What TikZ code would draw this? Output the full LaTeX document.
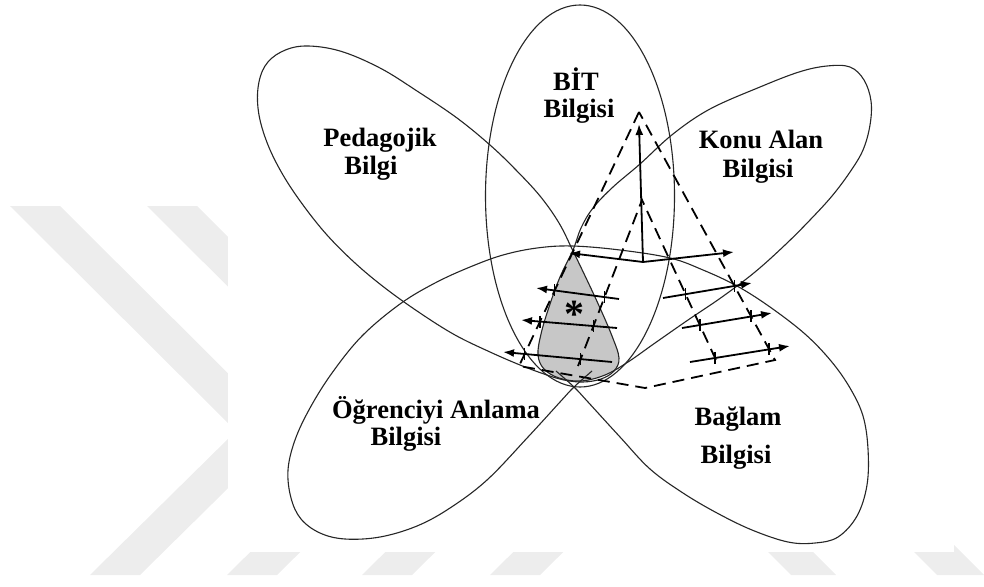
\documentclass[tikz,border=0pt]{standalone}
\usepackage{fontspec}
\setmainfont{Liberation Serif}
\usetikzlibrary{arrows.meta,calc,intersections}
% outlines of the knowledge domains
\newcommand\pedpath{plot[smooth cycle, tension=0.6] coordinates {
  (305,46) (340,51) (380,68) (417,91) (457,118) (490,145) (515,169)
  (540,196) (559,223) (573,251) (587,280) (600,308) (612,336) (619,358)
  (614,371) (601,379) (583,382) (564,380) (544,374) (520,365) (490,352)
  (455,335) (420,313) (385,288) (355,263) (327,235) (303,205) (283,175)
  (268,145) (259,115) (258,88) (265,66) (281,52)}}
\newcommand\konpath{plot[smooth cycle, tension=0.6] coordinates {
  (827,66) (850,67) (864,80) (871,101) (870,125) (863,150) (850,172)
  (832,196) (810,220) (785,245) (755,272) (722,297) (688,320) (655,343)
  (628,362) (605,375) (581,381) (559,378) (544,369) (538,355) (541,334)
  (549,307) (560,277) (573,250) (581,228) (593,208) (613,187) (640,164)
  (673,134) (710,109) (760,87) (799,72)}}
\newcommand\lowpath{plot[smooth, tension=0.6] coordinates {
  (592,371) (574,387) (560,402) (528,437) (487,480) (450,508) (417,526)
  (380,537) (345,539) (320,533) (301,519) (291,498) (288,470) (295,440)
  (310,408) (332,373) (362,336) (400,304) (435,283) (470,267) (503,255)
  (537,248) (572,246) (620,250) (670,258) (703,270) (737,286) (770,307)
  (805,334) (831,361) (850,388) (863,416) (868,449) (867,485) (857,516)
  (838,537) (815,543) (788,542) (752,530) (717,513) (683,493) (650,469)
  (620,437) (588,402) (574,387) (556,371)}}
\begin{document}
\begin{tikzpicture}[x=1pt,y=-1pt,
  petal/.style={line width=1.1pt, draw=black!85},
  lbl/.style={font=\fontsize{26.5}{30}\selectfont\bfseries, inner sep=0pt, anchor=base},
  dashedge/.style={line width=1.8pt, dash pattern=on 12pt off 7pt},
  arrowln/.style={line width=1.8pt, -{Latex[length=11pt,width=8pt]}},
  tickln/.style={line width=1.5pt},
  wm/.style={fill=black!7, draw=none}]

\useasboundingbox (0,0) rectangle (984,586);

% background chevrons
\foreach \s in {0,137,272,400}{
  \fill[wm] ({10+\s},206) -- ({60+\s},206) -- ({286+\s},431) -- ({140+\s},575)
            -- ({90+\s},575) -- ({236+\s},431) -- cycle;
}
\fill[wm] (716,500) -- (761,500) -- (836,575) -- (791,575) -- cycle;
\fill[wm] (862,500) -- (909,500) -- (984,575) -- (937,575) -- cycle;
\fill[white] (228,0) rectangle (954,552);

% shaded common region
\begin{scope}
  \clip \pedpath;
  \fill[black!22] \konpath;
\end{scope}

% the five knowledge domains
\draw[petal] (580,196) ellipse [x radius=94.5pt, y radius=191pt];
\draw[petal] \pedpath;
\draw[petal] \konpath;
\draw[petal] \lowpath;

% labels
\node[lbl] (bit1) at (576,90) {BİT};
\node[lbl] (bit2) at (579,117) {Bilgisi};
\node[lbl] (ped1) at (380,146) {Pedagojik};
\node[lbl] (ped2) at (371,174) {Bilgi};
\node[lbl] (kon1) at (761,148) {Konu Alan};
\node[lbl] (kon2) at (758,177) {Bilgisi};
\node[lbl] (ogr1) at (436,418) {Öğrenciyi Anlama};
\node[lbl] (ogr2) at (406,445) {Bilgisi};
\node[lbl] (bag1) at (738,425) {Bağlam};
\node[lbl] (bag2) at (736,463) {Bilgisi};
\node[font=\fontsize{40}{40}\selectfont\bfseries, inner sep=0pt, anchor=base] (star) at (574,327) {*};

% pyramid corners
\coordinate (apex) at (639,112);
\coordinate (fl) at (519,366);
\coordinate (fb) at (645,388);
\coordinate (fr) at (775,360);
\coordinate (iapex) at (642,200);
\coordinate (il) at (578,366);
\coordinate (ir) at (716,360);
\coordinate (base) at (643,262);
\coordinate (bl) at (569,253);
\coordinate (br) at (734,252);
\coordinate (up) at (639,124);

% dashed pyramid
\draw[dashedge] (apex) -- (fl) -- (fb) -- (fr) -- (apex);
\draw[dashedge] (il) -- (iapex) -- (ir);
\path[name path=ol] (apex) -- ($(apex)!1.2!(fl)$);
\path[name path=orr] (apex) -- ($(apex)!1.2!(fr)$);
\path[name path=inl] (iapex) -- ($(iapex)!1.2!(il)$);
\path[name path=inr] (iapex) -- ($(iapex)!1.2!(ir)$);

% growth vectors
\draw[arrowln] (base) -- (up);
\draw[arrowln] (base) -- (bl);
\draw[arrowln] (base) -- (br);

\coordinate (l1s) at (619,299); \coordinate (l1e) at (536,288);
\coordinate (l2s) at (617,328); \coordinate (l2e) at (521,320);
\coordinate (l3s) at (612,362); \coordinate (l3e) at (503,352);
\coordinate (r1s) at (663,298); \coordinate (r1e) at (752,283);
\coordinate (r2s) at (682,328); \coordinate (r2e) at (772,313);
\coordinate (r3s) at (690,362); \coordinate (r3e) at (790,346);

\draw[arrowln, name path=la] (l1s) -- (l1e);
\draw[arrowln, name path=lb] (l2s) -- (l2e);
\draw[arrowln, name path=lc] (l3s) -- (l3e);
\draw[arrowln, name path=ra] (r1s) -- (r1e);
\draw[arrowln, name path=rb] (r2s) -- (r2e);
\draw[arrowln, name path=rc] (r3s) -- (r3e);

% crossing marks where the vectors pass the pyramid edges
\path[name intersections={of=la and ol, by=t1}];
\path[name intersections={of=la and inl, by=t2}];
\path[name intersections={of=lb and ol, by=t3}];
\path[name intersections={of=lb and inl, by=t4}];
\path[name intersections={of=lc and ol, by=t5}];
\path[name intersections={of=lc and inl, by=t6}];
\path[name intersections={of=ra and orr, by=t7}];
\path[name intersections={of=ra and inr, by=t8}];
\path[name intersections={of=rb and orr, by=t9}];
\path[name intersections={of=rb and inr, by=t10}];
\path[name intersections={of=rc and orr, by=t11}];
\path[name intersections={of=rc and inr, by=t12}];
\foreach \t in {t1,t2,t3,t4,t5,t6,t7,t8,t9,t10,t11,t12}{
  \draw[tickln] ($(\t)+(0,-6)$) -- ($(\t)+(0,6)$);
}
\end{tikzpicture}
\end{document}
